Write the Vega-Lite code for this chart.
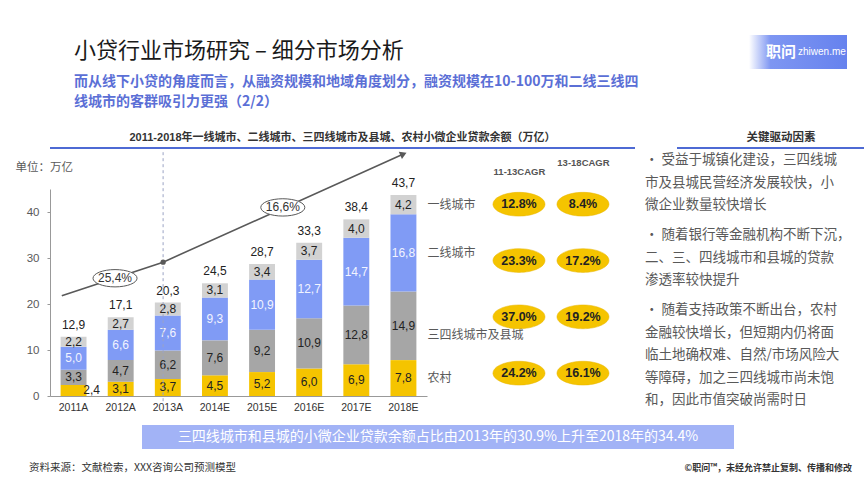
{
  "$schema": "https://vega.github.io/schema/vega-lite/v6.json",
  "background": "white",
  "padding": {"left": 15, "top": 35, "right": 0, "bottom": 0},
  "config": {
    "font": "Liberation Sans, Noto Sans CJK SC",
    "view": {"stroke": null},
    "locale": {"number": {"decimal": ",", "thousands": ".", "grouping": [3], "currency": ["", ""]}}
  },
  "datasets": {
    "bars": [
      {"year": "2011A", "series": "农村", "value": 2.4, "ord": 1},
      {"year": "2011A", "series": "三四线城市及县城", "value": 3.3, "ord": 2},
      {"year": "2011A", "series": "二线城市", "value": 5.0, "ord": 3},
      {"year": "2011A", "series": "一线城市", "value": 2.2, "ord": 4},
      {"year": "2012A", "series": "农村", "value": 3.1, "ord": 1},
      {"year": "2012A", "series": "三四线城市及县城", "value": 4.7, "ord": 2},
      {"year": "2012A", "series": "二线城市", "value": 6.6, "ord": 3},
      {"year": "2012A", "series": "一线城市", "value": 2.7, "ord": 4},
      {"year": "2013A", "series": "农村", "value": 3.7, "ord": 1},
      {"year": "2013A", "series": "三四线城市及县城", "value": 6.2, "ord": 2},
      {"year": "2013A", "series": "二线城市", "value": 7.6, "ord": 3},
      {"year": "2013A", "series": "一线城市", "value": 2.8, "ord": 4},
      {"year": "2014E", "series": "农村", "value": 4.5, "ord": 1},
      {"year": "2014E", "series": "三四线城市及县城", "value": 7.6, "ord": 2},
      {"year": "2014E", "series": "二线城市", "value": 9.3, "ord": 3},
      {"year": "2014E", "series": "一线城市", "value": 3.1, "ord": 4},
      {"year": "2015E", "series": "农村", "value": 5.2, "ord": 1},
      {"year": "2015E", "series": "三四线城市及县城", "value": 9.2, "ord": 2},
      {"year": "2015E", "series": "二线城市", "value": 10.9, "ord": 3},
      {"year": "2015E", "series": "一线城市", "value": 3.4, "ord": 4},
      {"year": "2016E", "series": "农村", "value": 6.0, "ord": 1},
      {"year": "2016E", "series": "三四线城市及县城", "value": 10.9, "ord": 2},
      {"year": "2016E", "series": "二线城市", "value": 12.7, "ord": 3},
      {"year": "2016E", "series": "一线城市", "value": 3.7, "ord": 4},
      {"year": "2017E", "series": "农村", "value": 6.9, "ord": 1},
      {"year": "2017E", "series": "三四线城市及县城", "value": 12.8, "ord": 2},
      {"year": "2017E", "series": "二线城市", "value": 14.7, "ord": 3},
      {"year": "2017E", "series": "一线城市", "value": 4.0, "ord": 4},
      {"year": "2018E", "series": "农村", "value": 7.8, "ord": 1},
      {"year": "2018E", "series": "三四线城市及县城", "value": 14.9, "ord": 2},
      {"year": "2018E", "series": "二线城市", "value": 16.8, "ord": 3},
      {"year": "2018E", "series": "一线城市", "value": 4.2, "ord": 4}
    ],
    "trend": [
      {"t": 2010.75, "v": 21.8},
      {"t": 2012.9, "v": 29.1},
      {"t": 2018.0, "v": 52.6}
    ],
    "trendNotes": [
      {"t": 2011.88, "v": 25.6, "label": "25,4%"},
      {"t": 2015.44, "v": 41.0, "label": "16,6%"}
    ],
    "divider": [
      {"t": 2012.9, "v": 53, "v2": -2}
    ],
    "cagr": [
      {"series": "一线城市", "period": "11-13CAGR", "label": "12.8%"},
      {"series": "一线城市", "period": "13-18CAGR", "label": "8.4%"},
      {"series": "二线城市", "period": "11-13CAGR", "label": "23.3%"},
      {"series": "二线城市", "period": "13-18CAGR", "label": "17.2%"},
      {"series": "三四线城市及县城", "period": "11-13CAGR", "label": "37.0%"},
      {"series": "三四线城市及县城", "period": "13-18CAGR", "label": "19.2%"},
      {"series": "农村", "period": "11-13CAGR", "label": "24.2%"},
      {"series": "农村", "period": "13-18CAGR", "label": "16.1%"}
    ],
    "drivers": [
      {"block": "1", "lines": ["• 受益于城镇化建设，三四线城", "市及县城民营经济发展较快，小", "微企业数量较快增长"]},
      {"block": "2", "lines": ["• 随着银行等金融机构不断下沉，", "二、三、四线城市和县城的贷款", "渗透率较快提升"]},
      {"block": "3", "lines": ["• 随着支持政策不断出台，农村", "金融较快增长，但短期内仍将面", "临土地确权难、自然/市场风险大", "等障碍，加之三四线城市尚未饱", "和，因此市值突破尚需时日"]}
    ]
  },
  "spacing": 22,
  "vconcat": [
    {
      "spacing": 8,
      "hconcat": [
        {
          "width": 691,
          "height": 34,
          "data": {"values": [
            {"k": "title", "t": "小贷行业市场研究 – 细分市场分析"},
            {"k": "sub", "t": ["而从线下小贷的角度而言，从融资规模和地域角度划分，融资规模在10-100万和二线三线四", "线城市的客群吸引力更强（2/2）"]}
          ]},
          "encoding": {
            "x": {"datum": 0, "type": "quantitative", "scale": {"domain": [0, 1]}, "axis": null},
            "y": {"field": "k", "type": "nominal", "sort": ["title", "sub"], "scale": {"type": "point", "padding": 0}, "axis": null},
            "text": {"field": "t"}
          },
          "layer": [
            {"transform": [{"filter": "datum.k === 'title'"}],
             "mark": {"type": "text", "align": "left", "baseline": "top", "dx": 24, "dy": 6, "fontSize": 22, "font": "Noto Sans CJK SC", "color": "#1a1a1a"}},
            {"transform": [{"filter": "datum.k === 'sub'"}],
             "mark": {"type": "text", "align": "left", "baseline": "top", "dx": 24, "dy": 6, "fontSize": 14, "fontWeight": "bold", "lineHeight": 20, "font": "Noto Sans CJK SC", "color": "#5b6fd6"}}
          ]
        },
        {
          "width": 98,
          "height": 34,
          "data": {"values": [{"a": "职问", "b": "zhiwen.me"}]},
          "layer": [
            {
              "mark": {"type": "rect", "color": {"gradient": "linear", "x1": 0, "y1": 0, "x2": 1, "y2": 0, "stops": [{"offset": 0, "color": "#ffffff"}, {"offset": 0.22, "color": "#7e96f2"}, {"offset": 1, "color": "#6682ee"}]}},
              "encoding": {
                "x": {"datum": 0, "type": "quantitative", "scale": {"domain": [0, 1]}, "axis": null},
                "x2": {"datum": 1},
                "y": {"datum": 0, "type": "quantitative", "scale": {"domain": [0, 1]}, "axis": null},
                "y2": {"datum": 1}
              }
            },
            {"mark": {"type": "text", "align": "right", "baseline": "middle", "dx": -2, "fontSize": 15, "fontWeight": "bold", "color": "white", "font": "Noto Sans CJK SC"}, "encoding": {"text": {"field": "a"}}},
            {"mark": {"type": "text", "align": "left", "baseline": "middle", "dx": 0, "fontSize": 10, "color": "white"}, "encoding": {"text": {"field": "b"}}}
          ]
        }
      ]
    },
    {
      "spacing": 12,
      "vconcat": [
        {
          "spacing": 1,
          "vconcat": [
            {
              "spacing": 40,
              "hconcat": [
                {
                  "width": 585,
                  "height": 1,
                  "title": {"text": "2011-2018年一线城市、二线城市、三四线城市及县城、农村小微企业贷款余额（万亿）", "fontSize": 11, "fontWeight": "bold", "color": "#333333", "offset": 4, "anchor": "middle"},
                  "data": {"values": [{}]},
                  "mark": {"type": "rule", "color": "#4e6ad4", "strokeWidth": 2},
                  "encoding": {
                    "x": {"datum": 0, "type": "quantitative", "scale": {"domain": [0, 1]}, "axis": null},
                    "x2": {"datum": 1},
                    "y": {"datum": 0, "type": "quantitative", "scale": {"domain": [0, 1]}, "axis": null}
                  }
                },
                {
                  "width": 208,
                  "height": 1,
                  "title": {"text": "关键驱动因素", "fontSize": 11.5, "fontWeight": "bold", "color": "#333333", "offset": 4, "anchor": "middle", "font": "Noto Sans CJK SC"},
                  "data": {"values": [{}]},
                  "mark": {"type": "rule", "color": "#4e6ad4", "strokeWidth": 2},
                  "encoding": {
                    "x": {"datum": 0, "type": "quantitative", "scale": {"domain": [0, 1]}, "axis": null},
                    "x2": {"datum": 1},
                    "y": {"datum": 0, "type": "quantitative", "scale": {"domain": [0, 1]}, "axis": null}
                  }
                }
              ]
            },
            {
              "spacing": 28,
              "hconcat": [
                {
                  "bounds": "flush",
                  "spacing": 3,
                  "hconcat": [
                    {
                      "width": 377,
                      "height": 207,
                      "resolve": {"scale": {"x": "independent"}},
                      "layer": [
                        {
                          "layer": [
                            {
                              "data": {"name": "bars"},
                              "mark": {"type": "bar"},
                              "encoding": {
                                "x": {"field": "year", "type": "nominal", "sort": null, "scale": {"paddingInner": 0.45, "paddingOuter": 0.225},
                                  "axis": {"title": null, "labelAngle": 0, "labelFontSize": 10.5, "labelColor": "#333333", "ticks": false, "domainColor": "#999999", "labelPadding": 6}},
                                "y": {"field": "value", "type": "quantitative", "stack": "zero", "title": "单位：万亿",
                                  "scale": {"domain": [0, 45], "nice": false},
                                  "axis": {"values": [0, 5, 10, 15, 20, 25, 30, 35, 40, 45], "grid": false, "labelFontSize": 11.5, "labelColor": "#595959", "domainColor": "#999999", "tickColor": "#999999", "tickSize": 3, "labelPadding": 8,
                                    "titleAngle": 0, "titleAlign": "left", "titleBaseline": "middle", "titleX": -35, "titleY": -22, "titleFontSize": 11.5, "titleFontWeight": "normal", "titleColor": "#595959", "titleFont": "Noto Sans CJK SC"}},
                                "color": {"field": "series", "type": "nominal", "legend": null,
                                  "scale": {"domain": ["一线城市", "二线城市", "三四线城市及县城", "农村"], "range": ["#d2d2d2", "#809bf5", "#a6a6a6", "#f5c400"]}},
                                "order": {"field": "ord", "type": "quantitative"}
                              }
                            },
                            {
                              "data": {"name": "bars"},
                              "transform": [
                                {"stack": "value", "groupby": ["year"], "sort": [{"field": "ord", "order": "ascending"}], "as": ["y0", "y1"]},
                                {"calculate": "(datum.y0 + datum.y1) / 2", "as": "mid"},
                                {"filter": "!(datum.year === '2011A' && datum.series === '农村')"}
                              ],
                              "mark": {"type": "text", "fontSize": 12, "baseline": "middle"},
                              "encoding": {
                                "x": {"field": "year", "type": "nominal", "sort": null},
                                "y": {"field": "mid", "type": "quantitative", "title": "单位：万亿"},
                                "text": {"field": "value", "type": "quantitative", "format": ".1f"},
                                "color": {"condition": {"test": "datum.series === '二线城市'", "value": "#f2f4ff"}, "value": "#222222"}
                              }
                            },
                            {
                              "data": {"name": "bars"},
                              "transform": [
                                {"stack": "value", "groupby": ["year"], "sort": [{"field": "ord", "order": "ascending"}], "as": ["y0", "y1"]},
                                {"calculate": "(datum.y0 + datum.y1) / 2", "as": "mid"},
                                {"filter": "datum.year === '2011A' && datum.series === '农村'"}
                              ],
                              "mark": {"type": "text", "fontSize": 12, "baseline": "middle", "dx": 18, "color": "#222222"},
                              "encoding": {
                                "x": {"field": "year", "type": "nominal", "sort": null},
                                "y": {"field": "mid", "type": "quantitative", "title": "单位：万亿"},
                                "text": {"field": "value", "type": "quantitative", "format": ".1f"}
                              }
                            },
                            {
                              "data": {"name": "bars"},
                              "transform": [
                                {"stack": "value", "groupby": ["year"], "sort": [{"field": "ord", "order": "ascending"}], "as": ["y0", "y1"]},
                                {"calculate": "(datum.y0 + datum.y1) / 2", "as": "mid"},
                                {"filter": "datum.year === '2018E' && datum.series !== '三四线城市及县城'"}
                              ],
                              "mark": {"type": "text", "fontSize": 12, "baseline": "middle", "align": "left", "dx": 24, "color": "#595959", "font": "Noto Sans CJK SC"},
                              "encoding": {
                                "x": {"field": "year", "type": "nominal", "sort": null},
                                "y": {"field": "mid", "type": "quantitative", "title": "单位：万亿"},
                                "text": {"field": "series", "type": "nominal"}
                              }
                            },
                            {
                              "data": {"name": "bars"},
                              "transform": [
                                {"stack": "value", "groupby": ["year"], "sort": [{"field": "ord", "order": "ascending"}], "as": ["y0", "y1"]},
                                {"calculate": "(datum.y0 + datum.y1) / 2", "as": "mid"},
                                {"filter": "datum.year === '2018E' && datum.series === '三四线城市及县城'"}
                              ],
                              "mark": {"type": "text", "fontSize": 12, "baseline": "top", "dy": 4, "align": "left", "dx": 24, "color": "#595959", "font": "Noto Sans CJK SC"},
                              "encoding": {
                                "x": {"field": "year", "type": "nominal", "sort": null},
                                "y": {"field": "mid", "type": "quantitative", "title": "单位：万亿"},
                                "text": {"field": "series", "type": "nominal"}
                              }
                            },
                            {
                              "data": {"name": "bars"},
                              "transform": [
                                {"aggregate": [{"op": "sum", "field": "value", "as": "total"}], "groupby": ["year"]}
                              ],
                              "mark": {"type": "text", "fontSize": 12, "baseline": "bottom", "dy": -5, "color": "#222222"},
                              "encoding": {
                                "x": {"field": "year", "type": "nominal", "sort": null},
                                "y": {"field": "total", "type": "quantitative", "title": "单位：万亿"},
                                "text": {"field": "total", "type": "quantitative", "format": ".1f"}
                              }
                            }
                          ]
                        },
                        {
                          "layer": [
                            {
                              "data": {"name": "divider"},
                              "mark": {"type": "rule", "color": "#9aa3c4", "strokeWidth": 1, "strokeDash": [3, 3]},
                              "encoding": {
                                "x": {"field": "t", "type": "quantitative", "scale": {"domain": [2010.5, 2018.5], "nice": false, "zero": false}, "axis": null},
                                "y": {"field": "v", "type": "quantitative", "title": "单位：万亿"},
                                "y2": {"field": "v2"}
                              }
                            },
                            {
                              "data": {"name": "trend"},
                              "mark": {"type": "line", "color": "#595959", "strokeWidth": 1.6},
                              "encoding": {
                                "x": {"field": "t", "type": "quantitative", "axis": null},
                                "y": {"field": "v", "type": "quantitative", "title": "单位：万亿"}
                              }
                            },
                            {
                              "data": {"name": "trend"},
                              "transform": [{"filter": "datum.t > 2012 && datum.t < 2014"}],
                              "mark": {"type": "point", "filled": true, "color": "#595959", "size": 28, "opacity": 1},
                              "encoding": {
                                "x": {"field": "t", "type": "quantitative", "axis": null},
                                "y": {"field": "v", "type": "quantitative", "title": "单位：万亿"}
                              }
                            },
                            {
                              "data": {"name": "trend"},
                              "transform": [{"filter": "datum.t > 2017"}],
                              "mark": {"type": "point", "filled": true, "color": "#595959", "shape": "triangle-right", "angle": -24, "size": 60, "opacity": 1},
                              "encoding": {
                                "x": {"field": "t", "type": "quantitative", "axis": null},
                                "y": {"field": "v", "type": "quantitative", "title": "单位：万亿"}
                              }
                            },
                            {
                              "data": {"name": "trendNotes"},
                              "mark": {"type": "point", "filled": true, "fill": "white", "stroke": "#595959", "strokeWidth": 1, "opacity": 1, "size": 990, "shape": "M-1.4,0A1.4,0.55,0,1,0,1.4,0A1.4,0.55,0,1,0,-1.4,0Z"},
                              "encoding": {
                                "x": {"field": "t", "type": "quantitative", "axis": null},
                                "y": {"field": "v", "type": "quantitative", "title": "单位：万亿"}
                              }
                            },
                            {
                              "data": {"name": "trendNotes"},
                              "mark": {"type": "text", "fontSize": 12, "color": "#333333"},
                              "encoding": {
                                "x": {"field": "t", "type": "quantitative", "axis": null},
                                "y": {"field": "v", "type": "quantitative", "title": "单位：万亿"},
                                "text": {"field": "label", "type": "nominal"}
                              }
                            }
                          ]
                        }
                      ]
                    },
                    {
                      "width": 182,
                      "height": 207,
                      "data": {"name": "cagr"},
                      "encoding": {
                        "x": {"field": "period", "type": "nominal", "sort": null,
                          "scale": {"type": "point", "padding": 0.922, "align": 0.754},
                          "axis": {"orient": "top", "title": null, "domain": false, "ticks": false, "labelAngle": 0, "labelFontSize": 9.5, "labelFontWeight": "bold", "labelColor": "#555555",
                            "labelPadding": {"condition": {"test": "datum.value === '11-13CAGR'", "value": 13}, "value": 22}}},
                        "y": {"field": "series", "type": "nominal", "sort": ["一线城市", "二线城市", "三四线城市及县城", "农村"],
                          "scale": {"type": "point", "padding": 0.338, "align": 0.4}, "axis": null}
                      },
                      "layer": [
                        {"mark": {"type": "point", "filled": true, "fill": "#f5c400", "stroke": "#e6b400", "strokeWidth": 0.5, "opacity": 1, "size": 1380, "shape": "M-1.4,0A1.4,0.64,0,1,0,1.4,0A1.4,0.64,0,1,0,-1.4,0Z"}},
                        {"mark": {"type": "text", "fontSize": 12.5, "fontWeight": "bold", "color": "#222222"}, "encoding": {"text": {"field": "label", "type": "nominal"}}}
                      ]
                    }
                  ]
                },
                {
                  "width": 208,
                  "height": 150,
                  "data": {"name": "drivers"},
                  "mark": {"type": "text", "align": "left", "baseline": "top", "fontSize": 13.5, "lineHeight": 22.5, "color": "#595959", "font": "Noto Sans CJK SC", "dx": 5, "dy": -36},
                  "encoding": {
                    "x": {"datum": 0, "type": "quantitative", "scale": {"domain": [0, 1]}, "axis": null},
                    "y": {"field": "block", "type": "ordinal", "scale": {"type": "point", "padding": 0}, "axis": null},
                    "text": {"field": "lines"}
                  }
                }
              ]
            }
          ]
        },
        {
          "spacing": 0,
          "hconcat": [
            {
              "width": 92,
              "height": 24,
              "data": {"values": [{}]},
              "mark": {"type": "text"},
              "encoding": {"text": {"value": ""}}
            },
            {
              "width": 592,
              "height": 24,
              "view": {"fill": "#a2b3f6"},
              "data": {"values": [{"t": "三四线城市和县城的小微企业贷款余额占比由2013年的30.9%上升至2018年的34.4%"}]},
              "mark": {"type": "text", "color": "white", "fontSize": 14, "font": "Noto Sans CJK SC", "baseline": "middle"},
              "encoding": {"text": {"field": "t", "type": "nominal"}}
            }
          ]
        },
        {
          "width": 797,
          "height": 14,
          "data": {"values": [{"s": "资料来源：文献检索，XXX咨询公司预测模型", "c": "©职问™，未经允许禁止复制、传播和修改"}]},
          "layer": [
            {"mark": {"type": "text", "align": "left", "baseline": "middle", "dx": -21, "fontSize": 10.5, "color": "#333333", "font": "Noto Sans CJK SC"},
             "encoding": {"x": {"datum": 0, "type": "quantitative", "scale": {"domain": [0, 1]}, "axis": null}, "text": {"field": "s"}}},
            {"mark": {"type": "text", "align": "right", "baseline": "middle", "dx": 5, "fontSize": 9, "fontWeight": "bold", "color": "#333333", "font": "Noto Sans CJK SC"},
             "encoding": {"x": {"datum": 1, "type": "quantitative"}, "text": {"field": "c"}}}
          ]
        }
      ]
    }
  ]
}
